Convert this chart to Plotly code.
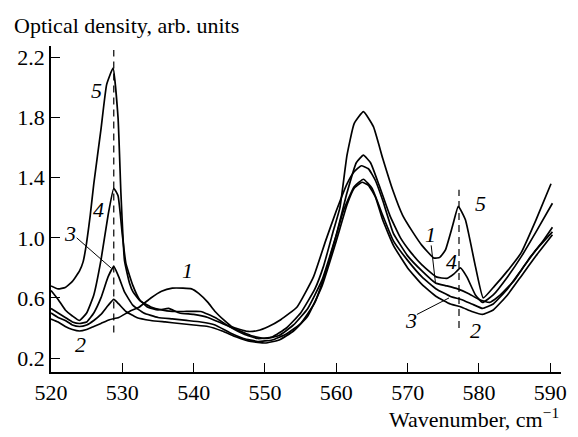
import plotly.graph_objects as go

# ---- data ----
x1 = [520, 521, 522, 523, 524, 525, 526, 527, 528.2, 529.5, 531, 532.4, 534, 535.5, 537, 538.5, 539.7, 540.7,
      542, 543, 544.3, 545.3, 546.5, 547.6, 549, 550.5, 552.2, 554.5, 556.8, 558.5, 560, 561.5, 562.5, 563.5,
      564.5, 565.5, 566.5, 568, 570, 572, 573.9, 575.5, 577, 578.5, 580, 581.5, 583, 585, 587, 589, 590.3]
y1 = [0.46, 0.44, 0.41, 0.39, 0.38, 0.39, 0.41, 0.43, 0.455, 0.47, 0.51, 0.54, 0.60, 0.645, 0.665, 0.665, 0.66, 0.63,
      0.57, 0.51, 0.45, 0.41, 0.39, 0.377, 0.383, 0.41, 0.455, 0.54, 0.74, 0.98, 1.18, 1.36, 1.44, 1.48,
      1.46, 1.38, 1.25, 1.03, 0.88, 0.78, 0.70, 0.68, 0.66, 0.63, 0.59, 0.57, 0.62, 0.72, 0.86, 0.98, 1.07]

x2 = [520, 521, 522, 523, 524, 525, 526, 527, 528, 528.8, 529.5, 530.5, 532, 534, 536, 538, 540, 542, 544, 546,
      548, 550, 552, 554, 556, 558, 560, 561.5, 562.5, 563.6, 564.5, 565.5, 566.5, 568, 570, 572, 574, 576,
      577.5, 579, 580.5, 582, 584, 586, 588, 590.3]
y2 = [0.50, 0.47, 0.45, 0.42, 0.41, 0.42, 0.45, 0.49, 0.55, 0.59, 0.56, 0.51, 0.47, 0.45, 0.44, 0.43, 0.42, 0.41,
      0.38, 0.34, 0.31, 0.30, 0.32, 0.38, 0.48, 0.68, 0.98, 1.22, 1.33, 1.37, 1.35, 1.27, 1.12, 0.95, 0.80, 0.69,
      0.61, 0.56, 0.54, 0.51, 0.49, 0.52, 0.62, 0.75, 0.88, 1.02]

x3 = [520, 521, 522, 523, 524, 525, 526, 527, 528, 528.8, 529.5, 530.3, 531.5, 533, 535, 537, 539, 541, 543, 545,
      547, 549, 551, 553, 555, 557, 559, 561, 562.5, 563.8, 565, 566.5, 568, 570, 572, 574, 576, 577.5, 579,
      580.5, 582, 584, 586, 588, 590.3]
y3 = [0.53, 0.50, 0.47, 0.44, 0.43, 0.44, 0.50, 0.60, 0.74, 0.81, 0.74, 0.64, 0.55, 0.50, 0.47, 0.46, 0.45, 0.44,
      0.42, 0.37, 0.33, 0.31, 0.32, 0.36, 0.43, 0.57, 0.85, 1.18, 1.34, 1.39, 1.33, 1.15, 0.98, 0.85, 0.74, 0.66,
      0.61, 0.59, 0.56, 0.53, 0.56, 0.66, 0.79, 0.92, 1.04]

x4 = [520, 521, 522, 523, 524, 525, 526, 527, 528, 528.8, 529.4, 530, 530.5, 531.5, 532.4, 533.5, 535, 536.5, 538,
      540, 542, 544, 546, 548, 550, 552, 554, 556, 558, 560, 561.5, 562.8, 563.8, 564.8, 566, 567.5, 569, 570.5,
      572, 574, 575.5, 576.5, 577.4, 578.3, 579.5, 580.5, 582, 584, 586, 588, 590.3]
y4 = [0.65, 0.59, 0.52, 0.48, 0.45, 0.50, 0.62, 0.85, 1.15, 1.33, 1.28, 1.02, 0.83, 0.68, 0.59, 0.54, 0.52, 0.53,
      0.50, 0.49, 0.47, 0.43, 0.39, 0.35, 0.33, 0.35, 0.42, 0.53, 0.72, 1.02, 1.30, 1.50, 1.55, 1.50, 1.35, 1.15,
      1.00, 0.90, 0.82, 0.74, 0.73, 0.76, 0.80, 0.74, 0.62, 0.57, 0.62, 0.74, 0.88, 1.04, 1.23]

x5 = [520, 521, 522, 523, 524, 524.5, 525, 525.5, 526, 527, 527.8, 528.7, 529.4, 529.8, 530.3, 531, 531.5, 532.5,
      534, 535.5, 537, 539, 541, 543, 545, 547, 549, 551, 553, 555, 557, 558.2, 559.6, 560.5, 561.5, 562.5,
      563.8, 565.2, 566.5, 567.9, 569.3, 570.7, 572, 573.7, 574.5, 575.3, 576.3, 577.1, 578.1, 579.5, 580.6,
      582.2, 584, 585.9, 588, 590.1]
y5 = [0.68, 0.66, 0.67, 0.71, 0.78, 0.84, 0.97, 1.15, 1.36, 1.72, 2.02, 2.13, 1.80, 1.30, 0.85, 0.70, 0.64, 0.58,
      0.54, 0.52, 0.51, 0.51, 0.51, 0.47, 0.41, 0.36, 0.33, 0.34, 0.40, 0.50, 0.66, 0.81, 1.05, 1.20, 1.55, 1.76,
      1.84, 1.74, 1.53, 1.32, 1.15, 1.04, 0.95, 0.865, 0.87, 0.92, 1.08, 1.21, 1.12, 0.81, 0.60,
      0.68, 0.78, 0.90, 1.12, 1.36]

# dashed marker lines
dash_left_x = [528.8, 528.8]
dash_left_y = [0.37, 2.25]
dash_right_x = [577.2, 577.2]
dash_right_y = [0.40, 1.32]

# curve labels
label_text = ["5", "4", "3", "2", "1", "1", "4", "5", "3", "2"]
label_x = [526.4, 526.6, 522.7, 524.1, 539.1, 573.2, 576.2, 580.2, 570.5, 579.5]
label_y = [1.98, 1.19, 1.03, 0.29, 0.78, 1.02, 0.84, 1.23, 0.45, 0.38]

# leader lines: [x0, x1], [y0, y1]
lead3_left = ([523.6, 528.4], [1.00, 0.80])
lead1_right = ([573.3, 573.9], [0.95, 0.70])
lead3_right = ([571.3, 575.8], [0.49, 0.60])

x_ticks = [520, 530, 540, 550, 560, 570, 580, 590]
y_ticks = [0.2, 0.6, 1.0, 1.4, 1.8, 2.2]
y_tick_text = ["0.2", "0.6", "1.0", "1.4", "1.8", "2.2"]

SERIF = "Liberation Serif"
FS = 22

fig = go.Figure()

for xs, ys in [(x1, y1), (x2, y2), (x3, y3), (x4, y4), (x5, y5)]:
    fig.add_trace(go.Scatter(x=xs, y=ys, mode="lines",
                             line=dict(color="black", width=1.7, shape="spline", smoothing=0.4),
                             showlegend=False, hoverinfo="skip"))

for xs, ys in [(dash_left_x, dash_left_y), (dash_right_x, dash_right_y)]:
    fig.add_trace(go.Scatter(x=xs, y=ys, mode="lines",
                             line=dict(color="black", width=1.2, dash="7px,5px"),
                             showlegend=False, hoverinfo="skip"))

for xs, ys in [lead3_left, lead1_right, lead3_right]:
    fig.add_trace(go.Scatter(x=xs, y=ys, mode="lines",
                             line=dict(color="black", width=1),
                             showlegend=False, hoverinfo="skip"))

for t, lx, ly in zip(label_text, label_x, label_y):
    fig.add_annotation(x=lx, y=ly, text="<i>" + t + "</i>", showarrow=False,
                       font=dict(family=SERIF, size=FS, color="black"),
                       xanchor="center", yanchor="middle")

fig.add_annotation(xref="paper", yref="paper", x=-0.076, y=1.064,
                   text="Optical density, arb. units", showarrow=False,
                   font=dict(family=SERIF, size=FS, color="black"),
                   xanchor="left", yanchor="middle")
fig.add_annotation(xref="paper", yref="paper", x=1.0, y=-0.142,
                   text="Wavenumber, cm<sup>\u22121</sup>", showarrow=False,
                   font=dict(family=SERIF, size=FS, color="black"),
                   xanchor="right", yanchor="middle")

fig.update_layout(
    width=578, height=437,
    margin=dict(l=51, r=11, t=46, b=65),
    paper_bgcolor="white", plot_bgcolor="white",
    xaxis=dict(range=[520, 591.5], tickvals=x_ticks, ticks="inside", ticklen=9, tickwidth=1.2,
               tickcolor="black", showline=True, linecolor="black", linewidth=1.5,
               showgrid=False, zeroline=False, tickfont=dict(family=SERIF, size=FS, color="black")),
    yaxis=dict(range=[0.107, 2.277], tickvals=y_ticks, ticktext=y_tick_text, ticks="inside",
               ticklen=9, tickwidth=1.2, tickcolor="black", showline=True, linecolor="black",
               linewidth=1.5, showgrid=False, zeroline=False,
               tickfont=dict(family=SERIF, size=FS, color="black")),
)

fig.write_html("out.html")
